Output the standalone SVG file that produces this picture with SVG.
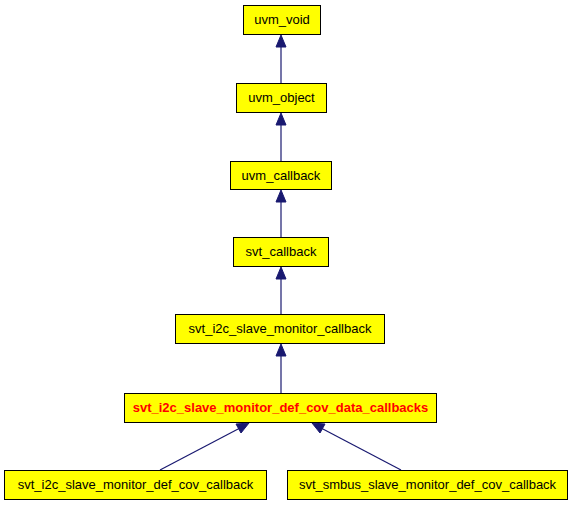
<svg xmlns="http://www.w3.org/2000/svg" width="573" height="507" viewBox="0 0 573 507">
<style>
.n rect{fill:#ffff00;stroke:#000;stroke-width:1}
.n text{font-family:"Liberation Sans",Arial,sans-serif;font-size:13px;text-anchor:middle;fill:#000}
.n text.b{fill:#ff0000;font-weight:bold}
.e line{stroke:#191970;stroke-width:1.2}
.e polygon{fill:#191970;stroke:#191970}
</style>
<rect width="573" height="507" fill="#fff"/>
<g class="e">
<line x1="281" y1="83" x2="281" y2="45"/><polygon points="281,35 276,47 286,47"/>
<line x1="281" y1="161" x2="281" y2="123"/><polygon points="281,113 276,125 286,125"/>
<line x1="281" y1="237" x2="281" y2="200"/><polygon points="281,190 276,202 286,202"/>
<line x1="281" y1="314" x2="281" y2="277"/><polygon points="281,267 276,279 286,279"/>
<line x1="281" y1="393" x2="281" y2="354"/><polygon points="281,344 276,356 286,356"/>
<line x1="160" y1="470" x2="240" y2="428"/><polygon points="249,423 236,424 241,433"/>
<line x1="401" y1="470" x2="321" y2="428"/><polygon points="312,423 320,433 325,424"/>
</g>
<g id="uvm_void" class="n"><rect x="243.5" y="5.5" width="77" height="29"/><text x="282" y="24">uvm_void</text></g>
<g id="uvm_object" class="n"><rect x="236.5" y="83.5" width="90" height="29"/><text x="281.5" y="102">uvm_object</text></g>
<g id="uvm_callback" class="n"><rect x="230.5" y="161.5" width="101" height="28"/><text x="281" y="180">uvm_callback</text></g>
<g id="svt_callback" class="n"><rect x="233.5" y="237.5" width="95" height="29"/><text x="281" y="256">svt_callback</text></g>
<g id="svt_i2c_slave_monitor_callback" class="n"><rect x="175.5" y="314.5" width="209" height="29"/><text x="280" y="333">svt_i2c_slave_monitor_callback</text></g>
<g id="svt_i2c_slave_monitor_def_cov_data_callbacks" class="n"><rect x="124.5" y="393.5" width="312" height="29"/><text class="b" x="280.5" y="412">svt_i2c_slave_monitor_def_cov_data_callbacks</text></g>
<g id="svt_i2c_slave_monitor_def_cov_callback" class="n"><rect x="4.5" y="470.5" width="262" height="29"/><text x="135.5" y="489">svt_i2c_slave_monitor_def_cov_callback</text></g>
<g id="svt_smbus_slave_monitor_def_cov_callback" class="n"><rect x="287.5" y="470.5" width="280" height="29"/><text x="427.5" y="489">svt_smbus_slave_monitor_def_cov_callback</text></g>
</svg>
